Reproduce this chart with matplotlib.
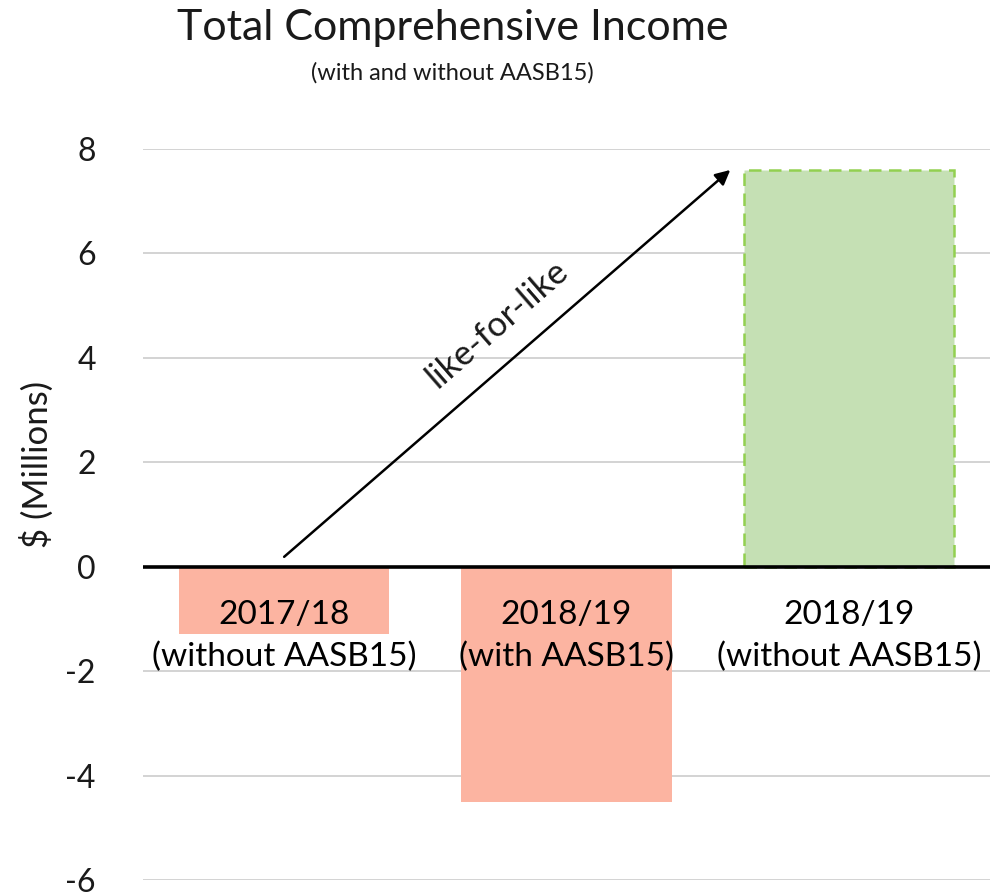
import matplotlib
matplotlib.use("Agg")
import matplotlib.pyplot as plt

# Werte ($ Mio.)
categories = ["2017/18\n(without AASB15)", "2018/19\n(with AASB15)", "2018/19\n(without AASB15)"]
values = [-1.28, -4.5, 7.59]
yticks = [-6, -4, -2, 0, 2, 4, 6, 8]
title = "Total Comprehensive Income"
subtitle = "(with and without AASB15)"
ylabel = "$ (Millions)"
arrow_label = "like-for-like"

plt.rcParams["font.family"] = ["Lato", "DejaVu Sans"]

fig = plt.figure(figsize=(9.97, 8.93), dpi=100)
ax = fig.add_axes([0.1434, 0.01456, 0.8496, 0.8185])

x = list(range(len(categories)))
red, green, green_edge = "#fcb4a1", "#c5e0b4", "#92d050"
ax.bar(x[:2], values[:2], width=0.745, color=red, zorder=2)
ax.bar(x[2], values[2], width=0.745, color=green, edgecolor=green_edge,
       linestyle=(0, (5, 3)), linewidth=1.8, zorder=2)

ax.set_xlim(-0.5, 2.5)
ax.set_ylim(-6, 8)
ax.set_yticks(yticks)
ax.set_yticklabels([str(t) for t in yticks], fontsize=23, color="#1a1a1a")
ax.tick_params(axis="y", length=0, pad=34)
ax.set_xticks([])
for s in ax.spines.values():
    s.set_visible(False)
ax.grid(axis="y", color="#d0d0d0", linewidth=1.3, zorder=0)
ax.axhline(0, color="black", linewidth=2.6, zorder=3)

for xi, lab in zip(x, categories):
    ax.text(xi, -1.33, lab, ha="center", va="center", fontsize=24,
            linespacing=1.5, zorder=4)

ax.annotate("", xy=(1.58, 7.6), xytext=(0, 0.19),
            arrowprops=dict(arrowstyle="-|>", color="black", lw=1.8,
                            mutation_scale=22, shrinkA=0, shrinkB=0), zorder=5)
ax.text(0.755, 4.65, arrow_label, rotation=41, ha="center", va="center",
        fontsize=25, rotation_mode="anchor", color="#1a1a1a")

ax.set_ylabel(ylabel, fontsize=25, color="#1a1a1a")
ax.yaxis.set_label_coords(-0.105, 0.569)

fig.text(0.454, 0.969, title, ha="center", va="center", fontsize=31, color="#1a1a1a")
fig.text(0.454, 0.919, subtitle, ha="center", va="center", fontsize=17, color="#1a1a1a")

fig.savefig("out.png", dpi=100)
